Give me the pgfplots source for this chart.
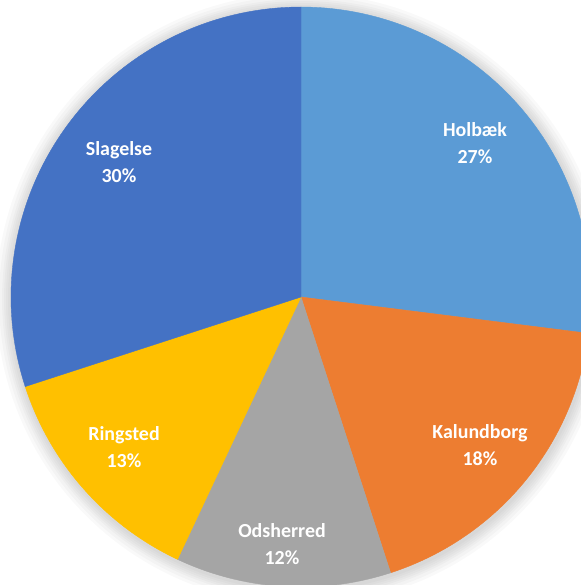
\documentclass[border=0pt]{standalone}
\usepackage{pgfplots}
\pgfplotsset{compat=1.18}
\usepackage{fontspec}
\setmainfont{Carlito}
\definecolor{cHol}{HTML}{5B9BD5}
\definecolor{cKal}{HTML}{ED7D31}
\definecolor{cOds}{HTML}{A5A5A5}
\definecolor{cRin}{HTML}{FFC000}
\definecolor{cSla}{HTML}{4472C4}
% shares in percent
\def\vHol{27}\def\vKal{18}\def\vOds{12}\def\vRin{13}\def\vSla{30}
\pgfmathsetmacro\aA{90}
\pgfmathsetmacro\aB{\aA-3.6*\vHol}
\pgfmathsetmacro\aC{\aB-3.6*\vKal}
\pgfmathsetmacro\aD{\aC-3.6*\vOds}
\pgfmathsetmacro\aE{\aD-3.6*\vRin}
\pgfmathsetmacro\aF{\aE-3.6*\vSla}
\def\cx{301}\def\cy{288}\def\rr{290}
\tikzset{lbl/.style={font=\fontsize{20}{27}\selectfont\bfseries, text=white, align=center, inner sep=0pt}}
\begin{document}
\begin{tikzpicture}
\begin{axis}[
  name=ax,
  width=581bp, height=585bp, scale only axis,
  xmin=0, xmax=581, ymin=0, ymax=585,
  axis lines=none, clip=true,
]
\pgfplotsinvokeforeach{16,13,10,8,6,4,2}{
  \addplot[fill=black, fill opacity=0.025, draw=none, domain=0:360, samples=200] ({\cx+1+(\rr+#1)*cos(x)},{\cy-2+(\rr+#1)*sin(x)});
}
\addplot[fill=cHol, draw=cHol, domain=\aB:\aA, samples=80] ({\cx+\rr*cos(x)},{\cy+\rr*sin(x)}) -- (axis cs:\cx,\cy) -- cycle;
\addplot[fill=cKal, draw=cKal, domain=\aC:\aB, samples=60] ({\cx+\rr*cos(x)},{\cy+\rr*sin(x)}) -- (axis cs:\cx,\cy) -- cycle;
\addplot[fill=cOds, draw=cOds, domain=\aD:\aC, samples=50] ({\cx+\rr*cos(x)},{\cy+\rr*sin(x)}) -- (axis cs:\cx,\cy) -- cycle;
\addplot[fill=cRin, draw=cRin, domain=\aE:\aD, samples=50] ({\cx+\rr*cos(x)},{\cy+\rr*sin(x)}) -- (axis cs:\cx,\cy) -- cycle;
\addplot[fill=cSla, draw=cSla, domain=\aF:\aE, samples=90] ({\cx+\rr*cos(x)},{\cy+\rr*sin(x)}) -- (axis cs:\cx,\cy) -- cycle;
\node[lbl] at (axis cs:475,442) {Holbæk\\\vHol\%};
\node[lbl] at (axis cs:480,140) {Kalundborg\\\vKal\%};
\node[lbl] at (axis cs:282,41) {Odsherred\\\vOds\%};
\node[lbl] at (axis cs:124,138) {Ringsted\\\vRin\%};
\node[lbl] at (axis cs:119,423) {Slagelse\\\vSla\%};
\end{axis}
\pgfresetboundingbox
\useasboundingbox (ax.south west) rectangle (ax.north east);
\end{tikzpicture}
\end{document}
